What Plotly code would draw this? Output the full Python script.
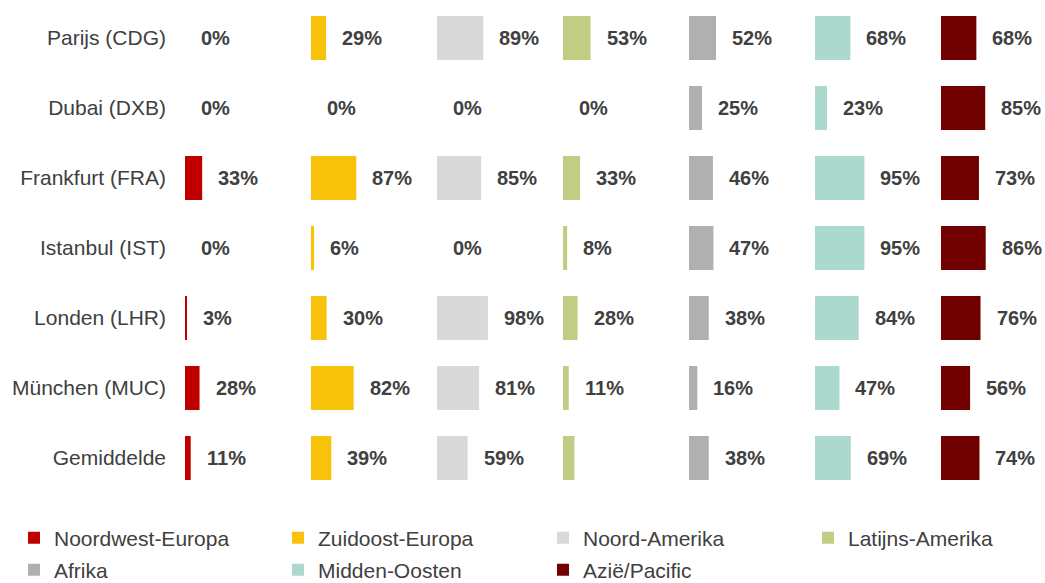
import plotly.graph_objects as go
from plotly.subplots import make_subplots

airports = ["Parijs (CDG)", "Dubai (DXB)", "Frankfurt (FRA)", "Istanbul (IST)",
            "Londen (LHR)", "München (MUC)", "Gemiddelde"]
regions = ["Noordwest-Europa", "Zuidoost-Europa", "Noord-Amerika", "Latijns-Amerika",
           "Afrika", "Midden-Oosten", "Azië/Pacific"]

noordwest_europa = [0, 0, 33, 0, 3, 28, 11]
zuidoost_europa = [29, 0, 87, 6, 30, 82, 39]
noord_amerika = [89, 0, 85, 0, 98, 81, 59]
latijns_amerika = [53, 0, 33, 8, 28, 11, 22]
afrika = [52, 25, 46, 47, 38, 16, 38]
midden_oosten = [68, 23, 95, 95, 84, 47, 69]
azie_pacific = [68, 85, 73, 86, 76, 56, 74]

# labels not shown in the original chart: (region, airport)
hidden_labels = [("Latijns-Amerika", "Gemiddelde")]

series = [noordwest_europa, zuidoost_europa, noord_amerika, latijns_amerika,
          afrika, midden_oosten, azie_pacific]
colors = ["#C00000", "#F8C10A", "#D9D9D9", "#C0CD82", "#B0B0B0", "#ABD9CE", "#710000"]

W, H = 1045, 583
L, R, T, B = 185, 0, 3, 90
plot_w = W - L - R
FONT = "Arial, Liberation Sans, sans-serif"
TEXT_COLOR = "#404040"

# legend placement (pixels in the page): left edge of each entry, row centre
legend_pos = [(14, 538), (278, 538), (543, 538), (808, 538),
              (14, 570), (278, 570), (543, 570)]

fig = make_subplots(rows=1, cols=7, shared_yaxes=True,
                    horizontal_spacing=22 / plot_w)

legend_common = dict(
    orientation="h", xref="container", yref="container",
    xanchor="left", yanchor="middle",
    font=dict(family=FONT, size=21, color=TEXT_COLOR),
    bgcolor="rgba(0,0,0,0)", borderwidth=0,
    itemclick=False, itemdoubleclick=False,
)
legend_layouts = {}

for i, (name, vals, col) in enumerate(zip(regions, series, colors)):
    lname = "legend" if i == 0 else f"legend{i + 1}"
    lx, ly = legend_pos[i]
    legend_layouts[lname] = dict(x=lx / W, y=1 - ly / H, **legend_common)
    fig.add_trace(
        go.Bar(
            x=vals, y=airports, orientation="h", name=name,
            marker=dict(color=col, line=dict(width=0)),
            legend=lname,
            hoverinfo="x+y",
        ),
        row=1, col=i + 1,
    )
    xref = "x" if i == 0 else f"x{i + 1}"
    for a, v in zip(airports, vals):
        if (name, a) in hidden_labels:
            continue
        fig.add_annotation(
            x=v, y=a, xref=xref, yref="y", text=f"<b>{v}%</b>",
            showarrow=False, xanchor="left", yanchor="middle", xshift=14,
            font=dict(family=FONT, size=20, color=TEXT_COLOR),
        )

for i in range(7):
    fig.update_xaxes(range=[0, 200], visible=False, fixedrange=True, row=1, col=i + 1)

fig.update_yaxes(
    type="category", categoryorder="array", categoryarray=airports,
    range=[6.5, -0.5], showgrid=False, zeroline=False, showline=False,
    ticks="", ticklabelstandoff=18, fixedrange=True,
    tickfont=dict(family=FONT, size=21, color=TEXT_COLOR),
)

fig.update_layout(
    width=W, height=H,
    margin=dict(l=L, r=R, t=T, b=B, autoexpand=False),
    paper_bgcolor="white", plot_bgcolor="white",
    bargap=26 / 70,
    showlegend=True,
    font=dict(family=FONT, color=TEXT_COLOR),
    **legend_layouts,
)

fig.write_html("out.html", config={"displayModeBar": False},
               post_script="document.body.style.margin='0';")
